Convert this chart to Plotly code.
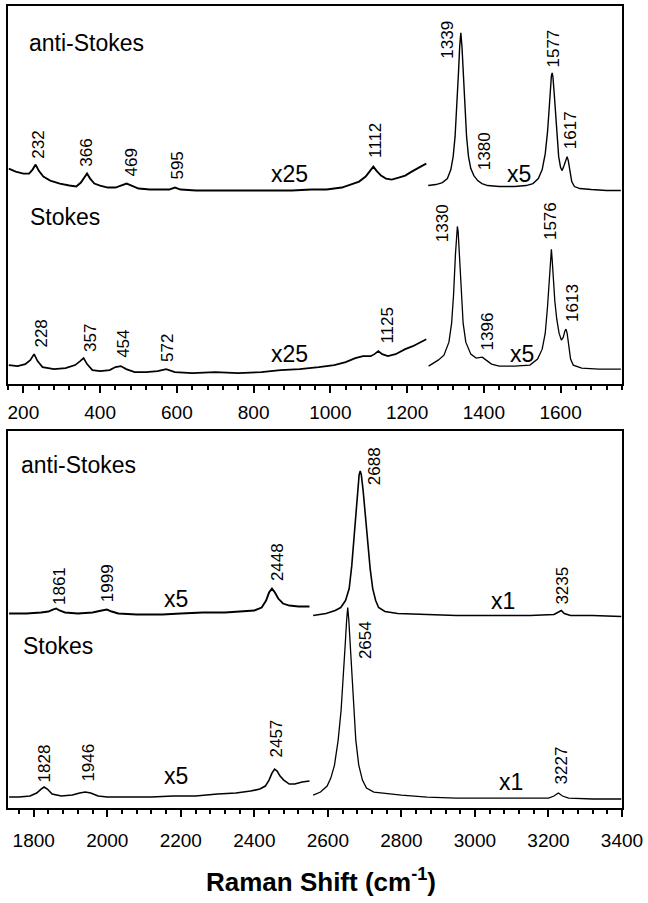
import plotly.graph_objects as go

# ---------------- data (intensity in arbitrary, stacked units) ----------------
# Top panel, anti-Stokes, low-frequency part (x25)
top_as_low_x = [162,180,200,215,224,232,240,252,270,295,320,338,350,358,366,374,385,400,420,440,455,469,482,500,530,560,580,595,610,650,700,750,800,850,900,950,990,1030,1055,1075,1092,1103,1112,1120,1132,1145,1160,1178,1195,1212,1228,1240,1250]
top_as_low_y = [216,213,211,211,215,220,214,208,204,201,199,198,202,207,211,206,201,199,197,197,199,201,199,196,195,195,195,197,195,194,194,194,194,194,194,195,195,197,200,203,208,213,218,214,209,206,205,207,209,213,216,219,221]
# Top panel, anti-Stokes, high-frequency part (x5)
top_as_high_x = [1255,1275,1292,1305,1314,1320,1325,1330,1334,1337,1340,1343,1346,1350,1355,1360,1366,1374,1384,1395,1410,1440,1480,1510,1528,1542,1552,1560,1566,1570,1573,1576,1578,1580,1583,1587,1591,1595,1600,1604,1609,1613,1617,1620,1624,1629,1636,1650,1680,1720,1757]
top_as_high_y = [199,200,202,206,215,228,248,278,313,338,352,338,313,278,248,228,216,209,204,201,199,198,198,199,201,206,215,231,253,275,295,309,312,308,293,268,245,228,217,214,219,225,228,224,213,203,198,196,195,194,194]
# Top panel, Stokes, low part (x25)
top_s_low_x = [162,185,205,218,228,237,250,280,310,335,348,357,366,380,400,425,440,454,468,490,520,550,572,595,640,700,760,820,870,920,970,1010,1040,1065,1085,1105,1115,1125,1135,1150,1170,1195,1215,1235,1250]
top_s_low_y = [19,18,20,24,30,23,17,15,16,19,23,26,20,14,13,14,17,18,15,12,12,13,15,12,11,12,11,12,14,15,17,19,22,26,28,28,30,33,30,28,30,35,38,42,45]
# Top panel, Stokes, high part (x5)
top_s_high_x = [1256,1281,1296,1309,1316,1321,1326,1329,1331,1333,1336,1341,1346,1353,1366,1380,1396,1406,1420,1440,1480,1520,1540,1552,1560,1566,1571,1574,1576,1578,1581,1585,1590,1596,1602,1607,1611,1614,1617,1621,1626,1633,1655,1700,1757]
top_s_high_y = [18,24,29,42,61,89,130,153,158,153,130,89,61,42,30,26,27,24,20,18,18,19,25,35,51,78,108,125,135,125,105,83,65,51,44,47,53,55,51,38,25,19,16,15,15]

# Bottom panel, anti-Stokes, low part (x5)
bot_as_low_x = [1733,1780,1820,1840,1852,1861,1870,1885,1920,1960,1985,1999,2012,2030,2080,2150,2200,2260,2320,2370,2400,2420,2432,2440,2448,2456,2465,2478,2495,2520,2550]
bot_as_low_y = [195,195,196,197,199,200,198,196,195,196,198,199,197,195,194,194,195,196,196,197,198,201,208,216,220,216,210,205,203,202,202]
# Bottom panel, anti-Stokes, high part (x1)
bot_as_high_x = [2560,2595,2620,2635,2648,2658,2665,2670,2676,2681,2685,2688,2691,2696,2702,2708,2715,2722,2730,2738,2755,2790,2850,2950,3050,3150,3215,3227,3235,3243,3260,3320,3398]
bot_as_high_y = [193,195,198,201,208,220,243,268,298,320,334,338,334,318,293,268,240,220,208,201,197,195,194,193,193,193,194,196,198,195,193,193,192]
# Bottom panel, Stokes, low part (x5)
bot_s_low_x = [1733,1760,1790,1808,1820,1828,1837,1850,1875,1905,1925,1940,1955,1975,2000,2060,2120,2180,2240,2300,2350,2390,2415,2430,2440,2448,2455,2462,2470,2480,2495,2510,2530,2550]
bot_s_low_y = [11,11,12,15,19,21,19,14,12,13,15,16,15,12,11,11,11,12,12,14,15,17,19,22,28,35,39,37,32,28,24,24,26,27]
# Bottom panel, Stokes, high part (x1)
bot_s_high_x = [2560,2580,2598,2608,2618,2628,2636,2642,2647,2651,2654,2657,2661,2665,2670,2676,2684,2694,2705,2725,2750,2800,2870,2950,3050,3150,3200,3215,3227,3238,3255,3320,3398]
bot_s_high_y = [13,16,22,30,43,68,98,128,163,188,201,188,163,128,98,68,43,28,20,16,15,13,11,10,10,10,10,12,15,12,10,9,9]

# Peak labels (text = band position in cm-1)
top_as_peaks = ["232","366","469","595","1112","1339","1380","1577","1617"]
top_s_peaks = ["228","357","454","572","1125","1330","1396","1576","1613"]
bot_as_peaks = ["1861","1999","2448","2688","3235"]
bot_s_peaks = ["1828","1946","2457","2654","3227"]

top_ticks = [200,400,600,800,1000,1200,1400,1600]
bot_ticks = [1800,2000,2200,2400,2600,2800,3000,3200,3400]

# ---------------- label placement (positions only) ----------------
top_as_peak_pos = [(241,225),(366,217),(483,207),(603,204),(1116,226),(1306,325),(1402,213),(1582,316),(1626,234)]
top_s_peak_pos = [(247,36),(373,31),(459,25),(574,21),(1150,40),(1293,141),(1409,33),(1574,143),(1629,61)]
bot_as_peak_pos = [(1870,203),(2001,205),(2463,226),(2729,323),(3237,203)]
bot_s_peak_pos = [(1829,25),(1949,25),(2460,50),(2703,148),(3235,23)]

FONT = "Liberation Sans, Arial, Helvetica, sans-serif"

fig = go.Figure()

def add_line(x, y, xa, ya, w):
    fig.add_trace(go.Scatter(x=x, y=y, mode="lines", xaxis=xa, yaxis=ya,
                             line=dict(color="black", width=w), showlegend=False,
                             hoverinfo="skip"))

add_line(top_as_low_x, top_as_low_y, "x", "y", 1.9)
add_line(top_as_high_x, top_as_high_y, "x", "y", 1.4)
add_line(top_s_low_x, top_s_low_y, "x", "y", 1.7)
add_line(top_s_high_x, top_s_high_y, "x", "y", 1.3)
add_line(bot_as_low_x, bot_as_low_y, "x2", "y2", 1.9)
add_line(bot_as_high_x, bot_as_high_y, "x2", "y2", 1.6)
add_line(bot_s_low_x, bot_s_low_y, "x2", "y2", 1.6)
add_line(bot_s_high_x, bot_s_high_y, "x2", "y2", 1.3)

ann = []
def peak_labels(texts, pos, xr, yr):
    for t, (px, py) in zip(texts, pos):
        ann.append(dict(text=t, x=px, y=py, xref=xr, yref=yr, showarrow=False,
                        textangle=-90, xanchor="center", yanchor="bottom",
                        font=dict(family=FONT, size=17, color="black"), borderpad=0))

peak_labels(top_as_peaks, top_as_peak_pos, "x", "y")
peak_labels(top_s_peaks, top_s_peak_pos, "x", "y")
peak_labels(bot_as_peaks, bot_as_peak_pos, "x2", "y2")
peak_labels(bot_s_peaks, bot_s_peak_pos, "x2", "y2")

def txt(t, x, y, xr, yr, anchor="center"):
    ann.append(dict(text=t, x=x, y=y, xref=xr, yref=yr, showarrow=False,
                    xanchor=anchor, yanchor="middle",
                    font=dict(family=FONT, size=23, color="black")))

txt("anti-Stokes", 209, 342, "x", "y", "left")
txt("Stokes", 212, 167, "x", "y", "left")
txt("x25", 894, 211, "x", "y")
txt("x5", 1491, 211, "x", "y")
txt("x25", 894, 30, "x", "y")
txt("x5", 1500, 30, "x", "y")
txt("anti-Stokes", 1759, 344, "x2", "y2", "left")
txt("Stokes", 1764, 162, "x2", "y2", "left")
txt("x5", 2186, 210, "x2", "y2")
txt("x1", 3075, 208, "x2", "y2")
txt("x5", 2186, 32, "x2", "y2")
txt("x1", 3097, 26, "x2", "y2")

ann.append(dict(text="<b>Raman Shift (cm<sup>-1</sup>)</b>", x=0.51, y=-0.091,
                xref="paper", yref="paper", showarrow=False, xanchor="center",
                yanchor="middle", font=dict(family=FONT, size=26, color="black")))

axis_common = dict(showline=True, linecolor="black", linewidth=2, mirror=True,
                   showgrid=False, zeroline=False)

fig.update_layout(
    width=648, height=903,
    margin=dict(l=8, r=26, t=4, b=95),
    paper_bgcolor="white", plot_bgcolor="white",
    xaxis=dict(domain=[0, 1], range=[160, 1760], anchor="y",
               tickvals=top_ticks, ticks="outside", ticklen=7, tickwidth=1.5,
               tickcolor="black", ticklabelstandoff=3,
               tickfont=dict(family=FONT, size=19, color="black"),
               minor=dict(ticks="outside", ticklen=4, tickwidth=1.5, dtick=40,
                          tick0=160, tickcolor="black", showgrid=False),
               **axis_common),
    yaxis=dict(domain=[0.5286, 1.0], range=[0, 379], anchor="x",
               showticklabels=False, ticks="", **axis_common),
    xaxis2=dict(domain=[0, 1], range=[1730, 3400], anchor="y2",
                tickvals=bot_ticks, ticks="outside", ticklen=7, tickwidth=1.5,
                tickcolor="black", ticklabelstandoff=7,
                tickfont=dict(family=FONT, size=19, color="black"),
                minor=dict(ticks="outside", ticklen=4, tickwidth=1.5, dtick=40,
                           tick0=1760, tickcolor="black", showgrid=False),
                **axis_common),
    yaxis2=dict(domain=[0, 0.4701], range=[0, 378], anchor="x2",
                showticklabels=False, ticks="", **axis_common),
    annotations=ann,
)

fig.write_html("out.html", config={"displayModeBar": False},
               post_script="document.body.style.margin='0';document.body.style.overflow='hidden';")
